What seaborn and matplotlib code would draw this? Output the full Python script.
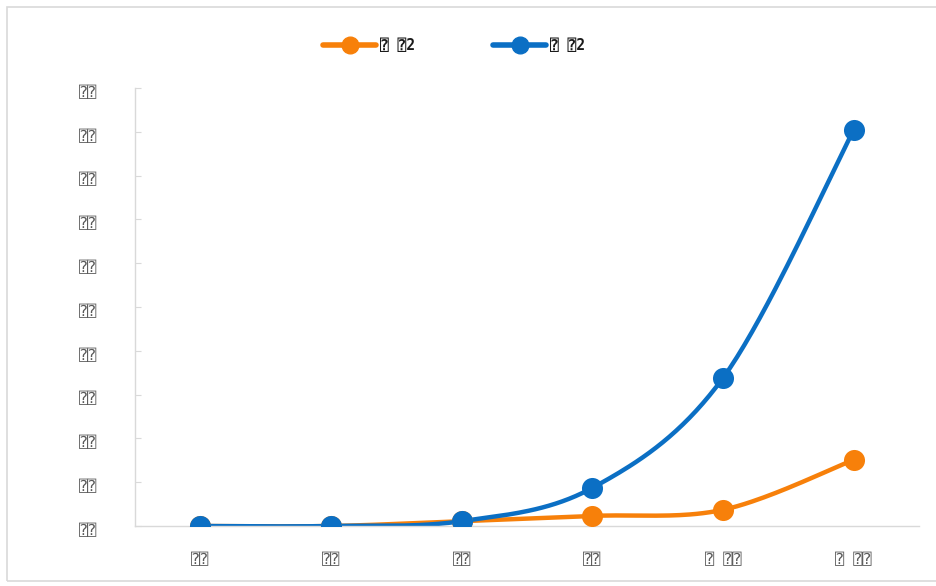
import numpy as np
import pandas as pd
import matplotlib
matplotlib.use("Agg")
import matplotlib.pyplot as plt
import matplotlib.transforms as mtransforms
from matplotlib.lines import Line2D
from matplotlib.patches import Rectangle
import seaborn as sns

# Category labels and tick labels (text rendered with the missing-glyph box)
categories = ["⍰⍰", "⍰⍰", "⍰⍰", "⍰⍰", "⍰ ⍰⍰", "⍰ ⍰⍰"]
y_ticks = [0, 1, 2, 3, 4, 5, 6, 7, 8, 9, 10]
y_tick_labels = ["⍰⍰"] * len(y_ticks)
series_names = ["⍰ ⍰2", "⍰ ⍰2"]

# Series values
orange_values = [0.0, 0.0, 0.11, 0.23, 0.37, 1.51]
blue_values = [0.0, 0.0, 0.11, 0.87, 3.38, 9.04]

orange = "#F7800A"
blue = "#0B6FC4"
axis_grey = "#D9D9D9"
text_grey = "#595959"
box_font = ["DejaVu Sans Mono", "DejaVu Sans"]


def smooth(xv, yv, n=40):
    """Catmull-Rom style smoothing like a spreadsheet 'smoothed line'."""
    xv = np.asarray(xv, float)
    yv = np.asarray(yv, float)
    px = np.concatenate([[xv[0]], xv, [xv[-1]]])
    py = np.concatenate([[yv[0]], yv, [yv[-1]]])
    out_x, out_y = [], []
    for i in range(1, len(px) - 2):
        p0x, p1x, p2x, p3x = px[i - 1], px[i], px[i + 1], px[i + 2]
        p0y, p1y, p2y, p3y = py[i - 1], py[i], py[i + 1], py[i + 2]
        c1x, c1y = p1x + (p2x - p0x) / 6, p1y + (p2y - p0y) / 6
        c2x, c2y = p2x - (p3x - p1x) / 6, p2y - (p3y - p1y) / 6
        t = np.linspace(0, 1, n)
        bx = (1 - t) ** 3 * p1x + 3 * (1 - t) ** 2 * t * c1x + 3 * (1 - t) * t ** 2 * c2x + t ** 3 * p2x
        by = (1 - t) ** 3 * p1y + 3 * (1 - t) ** 2 * t * c1y + 3 * (1 - t) * t ** 2 * c2y + t ** 3 * p2y
        out_x.extend(bx)
        out_y.extend(by)
    return np.array(out_x), np.array(out_y)


sns.set_style("white")
plt.rcParams["font.family"] = box_font

fig = plt.figure(figsize=(9.36, 5.86), dpi=100)
ax = fig.add_axes([135 / 936, 1 - 526 / 586, (919 - 135) / 936, (526 - 88) / 586])

xpos = np.arange(len(categories))
df = pd.DataFrame({"x": np.concatenate([xpos, xpos]),
                   "y": orange_values + blue_values,
                   "series": ["a"] * 6 + ["b"] * 6})

for vals, col, key in [(orange_values, orange, "a"), (blue_values, blue, "b")]:
    sx, sy = smooth(xpos, vals)
    sns.lineplot(x=sx, y=sy, sort=False, color=col, linewidth=3.2, ax=ax,
                 estimator=None, solid_capstyle="round")
    sns.scatterplot(data=df[df.series == key], x="x", y="y", color=col, s=230,
                    edgecolor=col, linewidth=0, ax=ax, zorder=5, legend=False)

ax.set_xlim(-0.5, len(categories) - 0.5)
ax.set_ylim(0, 10)
ax.set_xticks(xpos)
ax.set_xticklabels(categories)
ax.set_yticks(y_ticks)
ax.set_yticklabels(y_tick_labels)
ax.set_xlabel("")
ax.set_ylabel("")

for side in ["top", "right"]:
    ax.spines[side].set_visible(False)
for side in ["left", "bottom"]:
    ax.spines[side].set_color(axis_grey)
    ax.spines[side].set_linewidth(1.0)

ax.tick_params(axis="y", direction="in", length=4, color=axis_grey, pad=27,
               labelsize=11, labelcolor=text_grey, left=True)
ax.tick_params(axis="x", length=0, pad=19, labelsize=11, labelcolor=text_grey)
shift_down = mtransforms.ScaledTranslation(0, -3 / 100, fig.dpi_scale_trans)
for lab in ax.get_yticklabels():
    lab.set_transform(lab.get_transform() + shift_down)
for lab in ax.get_xticklabels() + ax.get_yticklabels():
    lab.set_family(box_font)

handles = [Line2D([0], [0], color=orange, lw=4, marker="o", markersize=12),
           Line2D([0], [0], color=blue, lw=4, marker="o", markersize=12)]
leg = fig.legend(handles, series_names, loc="center", ncol=2,
                 bbox_to_anchor=(454 / 936, 1 - 46 / 586), frameon=False,
                 handlelength=3.6, handletextpad=0.25, columnspacing=5.4,
                 prop={"family": box_font, "size": 10.5, "weight": "bold"})
for t in leg.get_texts():
    t.set_color("#1a1a1a")

fig.add_artist(Rectangle((7 / 936, 1 - 581 / 586), 1.0, (581 - 7) / 586,
                         transform=fig.transFigure, fill=False,
                         edgecolor="#D9D9D9", linewidth=1.2))

fig.savefig("out.png", dpi=100, facecolor="white")
